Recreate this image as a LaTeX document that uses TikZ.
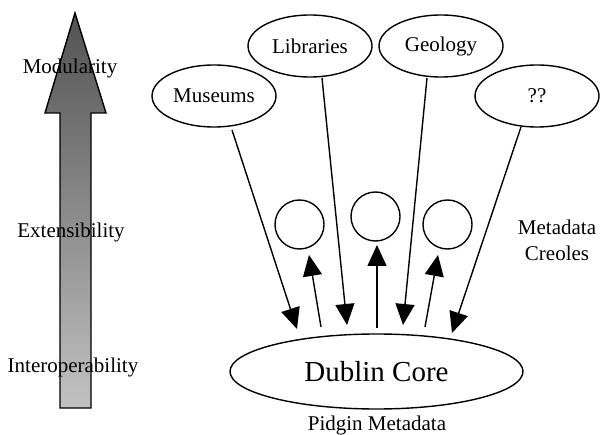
\documentclass[tikz,border=0pt]{standalone}
\usepackage{fontspec}
\setmainfont{Liberation Serif}
\usetikzlibrary{shapes.geometric,arrows.meta}
\begin{document}
\begin{tikzpicture}[x=1pt,y=-1pt,
  lbl/.style={font=\fontsize{21}{24}\selectfont, inner sep=0pt},
  domnode/.style={ellipse, draw, line width=1.4pt, minimum width=124pt, minimum height=62pt, inner sep=0pt, font=\fontsize{21}{24}\selectfont},
  creole/.style={circle, draw, line width=1.4pt, minimum size=49pt, inner sep=0pt},
  arr/.style={line width=1.4pt, -{Triangle[length=21pt,width=19pt]}}]
\useasboundingbox (0,0) rectangle (602,435);
% big gradient arrow
\shadedraw[line width=1.4pt, top color=black!68, bottom color=black!24]
  (75,13) -- (106,113) -- (91,113) -- (91,408) -- (60,408) -- (60,113) -- (45,113) -- cycle;
\node[lbl] (modl) at (70,68) {Modularity};
\node[lbl] (extl) at (71,232) {Extensibility};
\node[lbl] (intl) at (73,367) {Interoperability};
% domain ellipses
\node[domnode] (mus) at (214,96) {Museums};
\node[domnode] (lib) at (310,46) {Libraries};
\node[domnode] (geo) at (441,46) {Geology};
\node[domnode] (unk) at (537,96) {??};
% creoles
\node[creole] (c1) at (299.5,224.5) {};
\node[creole] (c2) at (375.5,216.5) {};
\node[creole] (c3) at (447.5,224.5) {};
% Dublin Core
\node[ellipse, draw, line width=1.4pt, minimum width=293pt, minimum height=75pt, inner sep=0pt,
  font=\fontsize{29}{32}\selectfont] (dc) at (376.5,371.5) {Dublin Core};
\node[lbl, align=center, font=\fontsize{21}{26}\selectfont] (mc) at (557,240) {Metadata\\Creoles};
\node[lbl] (pm) at (377,425) {Pidgin Metadata};
% connector end points
\coordinate (s1) at (232,130);
\coordinate (s2) at (322,78);
\coordinate (s3) at (427,78);
\coordinate (s4) at (521,127);
\coordinate (t1) at (297,329);
\coordinate (t2) at (347,325);
\coordinate (t3) at (403,325);
\coordinate (t4) at (452,333);
\coordinate (u1) at (321,327);
\coordinate (u2) at (377,328);
\coordinate (u3) at (425,327);
\coordinate (v1) at (309,255);
\coordinate (v2) at (377,245);
\coordinate (v3) at (438,255);
\draw[arr] (s1) -- (t1);
\draw[arr] (s2) -- (t2);
\draw[arr] (s3) -- (t3);
\draw[arr] (s4) -- (t4);
\draw[arr] (u1) -- (v1);
\draw[arr] (u2) -- (v2);
\draw[arr] (u3) -- (v3);
\end{tikzpicture}
\end{document}
